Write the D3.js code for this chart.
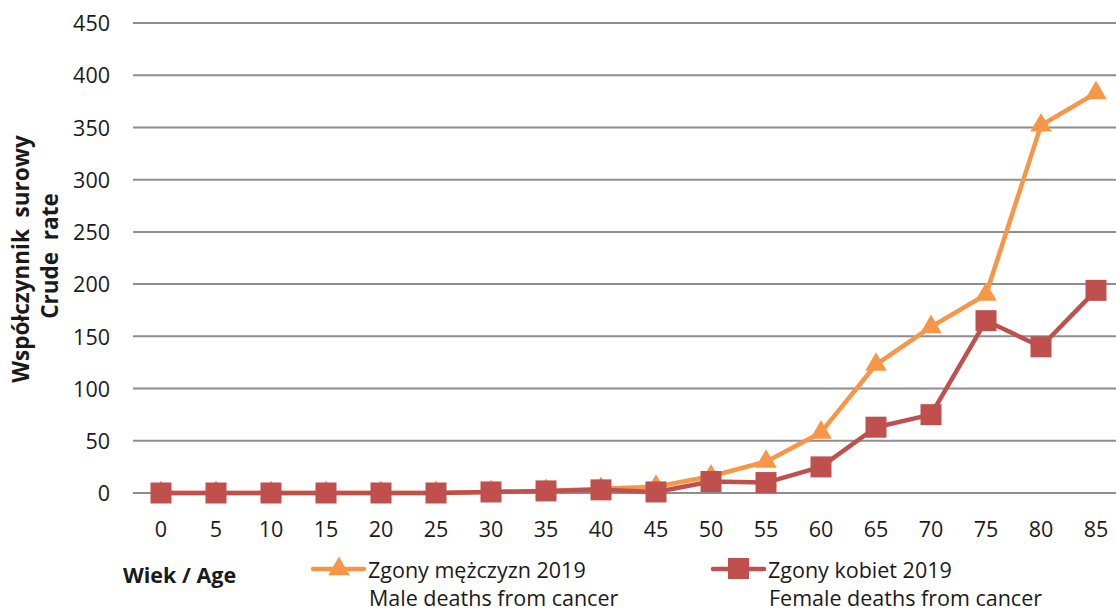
<!DOCTYPE html>
<html><head><meta charset="utf-8">
<script src="https://cdn.jsdelivr.net/npm/d3@7"></script>
<style>
body{margin:0;background:#fff;}
text{font-family:"Open Sans","Liberation Sans",Arial,sans-serif;}
</style></head>
<body><svg id="c" width="1116" height="612"></svg>
<script>
const ages = ["0","5","10","15","20","25","30","35","40","45","50","55","60","65","70","75","80","85"];
const maleValues = [0,0,0,0,0,0,1,2,4,6,16,30,58,123,159,190,352,383];
const femaleValues = [0,0,0,0,0,0,1,2,3,1,11,10,25,63,75,165,140,194];
const yTicks = [0,50,100,150,200,250,300,350,400,450];
const maleName = ["Zgony mężczyzn 2019","Male deaths from cancer"];
const femaleName = ["Zgony kobiet 2019","Female deaths from cancer"];
const yTitle = ["Współczynnik  surowy","Crude  rate"];
const xTitle = "Wiek / Age";

const FONT = "'Open Sans','Liberation Sans',Arial,sans-serif";
const svg = d3.select("#c");
const maleColor = "#F79646", femaleColor = "#C0504D", textColor = "#1a1a1a";
const x = d3.scaleBand().domain(ages).range([133.5, 1123.5]);
const y = d3.scaleLinear().domain([0,450]).range([493, 23]);
const cx = d => x(d) + x.bandwidth()/2;

// gridlines
svg.append("g").selectAll("line").data(yTicks).join("line")
  .attr("x1",133).attr("x2",1116)
  .attr("y1",d=>y(d)).attr("y2",d=>y(d))
  .attr("stroke","#8e8e8e").attr("stroke-width",2);

// y axis labels
const yAxis = d3.axisLeft(y).tickValues(yTicks).tickSize(0).tickPadding(0);
const ga = svg.append("g").attr("transform","translate(110,0)").call(yAxis);
ga.select(".domain").remove();
ga.attr("font-family",FONT);
ga.selectAll("text").attr("font-size",21.5).attr("fill",textColor).attr("dy","0.36em");

// x axis labels
const xAxis = d3.axisBottom(x).tickSize(0).tickPadding(0);
const gx = svg.append("g").attr("transform","translate(0,537)").call(xAxis);
gx.select(".domain").remove();
gx.attr("font-family",FONT);
gx.selectAll("text").attr("font-size",21.5).attr("fill",textColor).attr("dy","0");

// y title (two lines)
svg.append("text").attr("transform","translate(29,259) rotate(-90)")
  .attr("text-anchor","middle").attr("font-weight","bold").attr("font-size",22.5)
  .attr("fill",textColor).style("white-space","pre").text(yTitle[0]);
svg.append("text").attr("transform","translate(58,256) rotate(-90)")
  .attr("text-anchor","middle").attr("font-weight","bold").attr("font-size",22.5)
  .attr("fill",textColor).style("white-space","pre").text(yTitle[1]);

// lines
const line = d3.line().x((d,i)=>cx(ages[i])).y(d=>y(d));
svg.append("path").datum(maleValues).attr("d",line).attr("fill","none")
  .attr("stroke",maleColor).attr("stroke-width",4.5).attr("stroke-linejoin","round");
svg.append("path").datum(femaleValues).attr("d",line).attr("fill","none")
  .attr("stroke",femaleColor).attr("stroke-width",4.5).attr("stroke-linejoin","round");

const tri = d3.symbol().type(d3.symbolTriangle).size(200);
svg.append("g").selectAll("path").data(maleValues).join("path")
  .attr("d",tri).attr("fill",maleColor)
  .attr("transform",(d,i)=>`translate(${cx(ages[i])},${y(d)})`);
svg.append("g").selectAll("rect").data(femaleValues).join("rect")
  .attr("x",(d,i)=>cx(ages[i])-10.5).attr("y",d=>y(d)-10.5)
  .attr("width",21).attr("height",21).attr("fill",femaleColor);

// x title
svg.append("text").attr("x",123).attr("y",583).attr("font-weight","bold")
  .attr("font-size",21.5).attr("fill",textColor).text(xTitle);

// legend
function legend(x0, color, marker, names){
  const g = svg.append("g");
  g.append("line").attr("x1",x0).attr("x2",x0+51).attr("y1",569).attr("y2",569)
    .attr("stroke",color).attr("stroke-width",4.5).attr("stroke-linecap","round");
  if(marker==="tri"){
    g.append("path").attr("d",tri).attr("fill",color).attr("transform",`translate(${x0+26},569)`);
  } else {
    g.append("rect").attr("x",x0+15).attr("y",558).attr("width",21).attr("height",21).attr("fill",color);
  }
  g.append("text").attr("x",x0+55).attr("y",578).attr("font-size",21.5).attr("fill",textColor).text(names[0]);
  g.append("text").attr("x",x0+56).attr("y",606).attr("font-size",21.5).attr("fill",textColor).text(names[1]);
}
legend(313, maleColor, "tri", maleName);
legend(713, femaleColor, "sq", femaleName);
</script></body></html>
